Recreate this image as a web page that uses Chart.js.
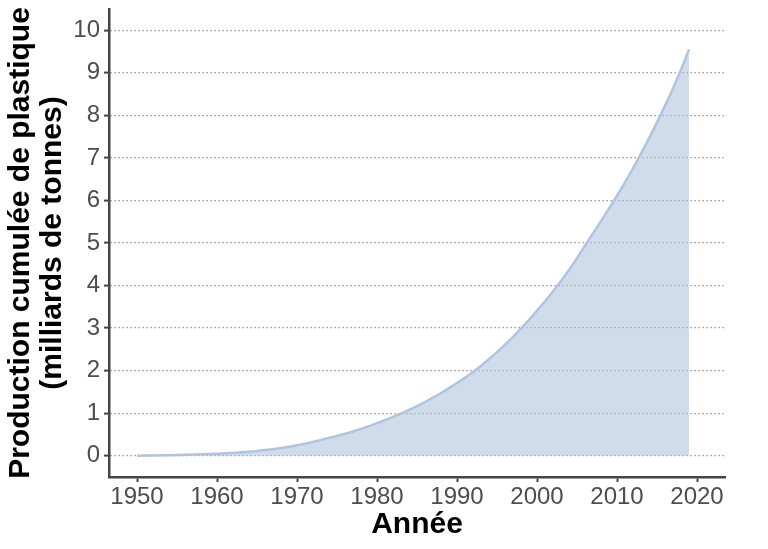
<!DOCTYPE html>
<html lang="fr">
<head>
<meta charset="utf-8">
<title>Production cumulée de plastique</title>
<script src="https://cdn.jsdelivr.net/npm/chart.js@4/dist/chart.umd.min.js"></script>
<style>
    html, body { margin: 0; padding: 0; background: #ffffff; }
    #wrap { width: 768px; height: 549px; position: relative; }
</style>
</head>
<body>
<div id="wrap"><canvas id="plasticChart"></canvas></div>
<script>
// Années (1950-2019)
const years = [
    1950, 1951, 1952, 1953, 1954, 1955, 1956, 1957, 1958, 1959,
    1960, 1961, 1962, 1963, 1964, 1965, 1966, 1967, 1968, 1969,
    1970, 1971, 1972, 1973, 1974, 1975, 1976, 1977, 1978, 1979,
    1980, 1981, 1982, 1983, 1984, 1985, 1986, 1987, 1988, 1989,
    1990, 1991, 1992, 1993, 1994, 1995, 1996, 1997, 1998, 1999,
    2000, 2001, 2002, 2003, 2004, 2005, 2006, 2007, 2008, 2009,
    2010, 2011, 2012, 2013, 2014, 2015, 2016, 2017, 2018, 2019
];

// Production cumulée (milliards de tonnes)
const cumulative = [
    0.002, 0.004, 0.006, 0.009, 0.012, 0.016, 0.021, 0.026, 0.032, 0.039,
    0.047, 0.056, 0.067, 0.080, 0.095, 0.112, 0.132, 0.154, 0.180, 0.210,
    0.245, 0.283, 0.325, 0.373, 0.420, 0.464, 0.515, 0.570, 0.630, 0.696,
    0.766, 0.838, 0.912, 0.992, 1.078, 1.168, 1.263, 1.365, 1.475, 1.590,
    1.710, 1.835, 1.970, 2.115, 2.270, 2.435, 2.610, 2.795, 2.990, 3.195,
    3.410, 3.630, 3.860, 4.105, 4.365, 4.645, 4.935, 5.225, 5.515, 5.810,
    6.110, 6.425, 6.755, 7.100, 7.460, 7.835, 8.225, 8.630, 9.070, 9.550
];

// Graduations des axes
const xTicks = [1950, 1960, 1970, 1980, 1990, 2000, 2010, 2020];
const yTicks = [0, 1, 2, 3, 4, 5, 6, 7, 8, 9, 10];

const axisColor = '#444444';
const tickTextColor = '#4d4d4d';
const fontFamily = 'Liberation Sans, Arial, sans-serif';

const points = years.map((year, i) => ({ x: year, y: cumulative[i] }));

const ctx = document.getElementById('plasticChart').getContext('2d');
new Chart(ctx, {
    type: 'line',
    data: {
        datasets: [{
            label: 'Production cumulée',
            data: points,
            borderColor: 'rgb(176, 196, 222)',
            backgroundColor: 'rgba(176, 196, 222, 0.6)',
            borderWidth: 2.5,
            fill: 'origin',
            pointRadius: 0,
            tension: 0
        }]
    },
    options: {
        responsive: true,
        maintainAspectRatio: false,
        animation: false,
        layout: {
            padding: { top: 9, right: 43, bottom: 0, left: 0 }
        },
        plugins: {
            legend: { display: false },
            tooltip: { enabled: false }
        },
        scales: {
            x: {
                type: 'linear',
                min: 1946.5,
                max: 2023.5,
                afterBuildTicks: scale => {
                    scale.ticks = xTicks.map(v => ({ value: v }));
                },
                afterFit: scale => {
                    scale.height = 72;
                    scale.paddingLeft = 0;
                    scale.paddingRight = 0;
                },
                grid: {
                    drawOnChartArea: false,
                    drawTicks: true,
                    tickLength: 5,
                    tickColor: axisColor,
                    tickWidth: 2
                },
                border: { display: true, color: axisColor, width: 2.5 },
                ticks: {
                    color: tickTextColor,
                    font: { family: fontFamily, size: 24 },
                    padding: 1,
                    maxRotation: 0,
                    autoSkip: false,
                    callback: value => String(value)
                },
                title: {
                    display: true,
                    text: 'Année',
                    color: '#000000',
                    font: { family: fontFamily, size: 30, weight: 'bold', lineHeight: 1.1 },
                    padding: { top: 0, bottom: 8 }
                }
            },
            y: {
                type: 'linear',
                min: -0.5,
                max: 10.5,
                afterBuildTicks: scale => {
                    scale.ticks = yTicks.map(v => ({ value: v }));
                },
                afterFit: scale => {
                    scale.width = 109;
                    scale.paddingTop = 0;
                    scale.paddingBottom = 0;
                },
                grid: {
                    drawOnChartArea: true,
                    color: '#858585',
                    lineWidth: 1.2,
                    drawTicks: true,
                    tickLength: 5,
                    tickColor: axisColor,
                    tickWidth: 2
                },
                border: { display: true, color: axisColor, width: 2.5, dash: [1.3, 2.7] },
                ticks: {
                    color: tickTextColor,
                    font: { family: fontFamily, size: 24 },
                    padding: 4,
                    autoSkip: false,
                    callback: value => String(value)
                },
                title: {
                    display: true,
                    text: ['Production cumulée de plastique', '(milliards de tonnes)'],
                    color: '#000000',
                    font: { family: fontFamily, size: 30, weight: 'bold', lineHeight: 1.07 },
                    padding: { top: 5, bottom: 0 }
                }
            }
        }
    }
});
</script>
</body>
</html>
